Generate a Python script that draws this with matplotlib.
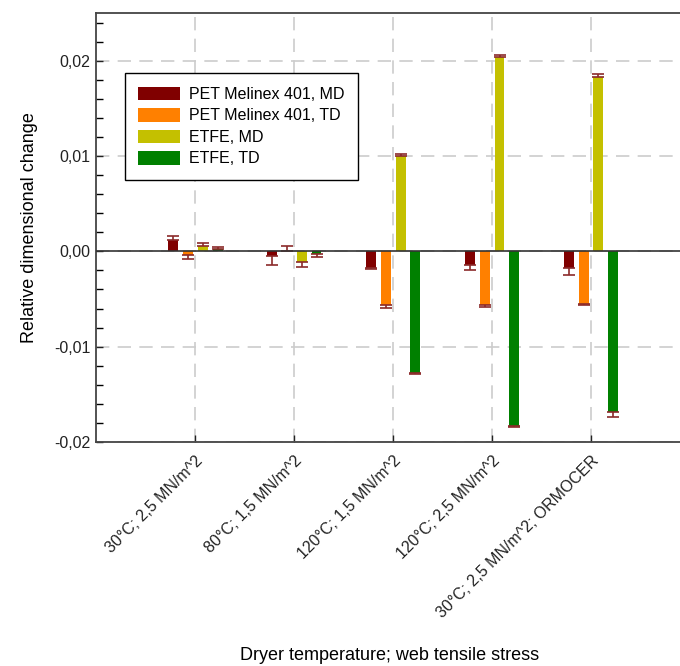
import matplotlib
matplotlib.use("Agg")
import matplotlib.pyplot as plt
import numpy as np
from matplotlib.ticker import FuncFormatter, MultipleLocator

plt.rcParams["font.family"] = ["Liberation Sans", "DejaVu Sans"]

CATEGORIES = [
    "30°C; 2,5 MN/m^2",
    "80°C; 1,5 MN/m^2",
    "120°C; 1,5 MN/m^2",
    "120°C; 2,5 MN/m^2",
    "30°C; 2,5 MN/m^2; ORMOCER",
]
SERIES = ["PET Melinex 401, MD", "PET Melinex 401, TD", "ETFE, MD", "ETFE, TD"]
COLORS = ["#800000", "#ff8000", "#c4c000", "#008000"]

pet_md = [0.00118, -0.0005, -0.0017, -0.00143, -0.0018]
pet_td = [-0.0004, 0.00005, -0.00565, -0.00565, -0.0055]
etfe_md = [0.0006, -0.0011, 0.00998, 0.0204, 0.0183]
etfe_td = [0.00025, -0.00025, -0.01274, -0.0183, -0.0169]

# one-sided error (away from zero)
pet_md_err = [0.0004, 0.0009, 0.0002, 0.0005, 0.0007]
pet_td_err = [0.0004, 0.0005, 0.0003, 0.0002, 0.0001]
etfe_md_err = [0.0003, 0.0005, 0.0002, 0.0002, 0.0003]
etfe_td_err = [0.0002, 0.0003, 0.0001, 0.0001, 0.0005]

values = [pet_md, pet_td, etfe_md, etfe_td]
errors = [pet_md_err, pet_td_err, etfe_md_err, etfe_td_err]

fig = plt.figure(figsize=(6.8, 6.66), dpi=100)
ax = fig.add_axes([95.5 / 680, 1 - 442 / 666, 1 - 95.5 / 680, (442 - 13) / 666])

x = np.arange(len(CATEGORIES))
offsets = [-0.225, -0.075, 0.075, 0.225]
for vals, errs, off, color, label in zip(values, errors, offsets, COLORS, SERIES):
    vals = np.array(vals)
    errs = np.array(errs)
    lower = np.where(vals < 0, errs, 0)
    upper = np.where(vals >= 0, errs, 0)
    ax.bar(x + off, vals, width=0.1, color=color, label=label, zorder=3)
    ax.errorbar(x + off, vals, yerr=[lower, upper], fmt="none", ecolor="#8b2a2a",
                elinewidth=1.2, capsize=4, capthick=1.2, zorder=4)

ax.axhline(0, color="#333333", lw=1.2, zorder=5)
ax.set_xlim(-1.01, 4.9)
ax.set_ylim(-0.02, 0.025)
ax.yaxis.set_major_locator(MultipleLocator(0.01))
ax.yaxis.set_minor_locator(MultipleLocator(0.002))
ax.yaxis.set_major_formatter(FuncFormatter(lambda v, p: f"{v:.2f}".replace(".", ",").replace("-0,00", "0,00")))
ax.set_xticks(x)
ax.set_xticklabels(CATEGORIES, rotation=45, ha="right", rotation_mode="anchor", fontsize=11)
ax.tick_params(axis="both", direction="in", length=5, width=1, labelsize=11.5, colors="#222222")
ax.tick_params(axis="y", which="minor", direction="in", length=5, width=1)
ax.tick_params(axis="x", pad=8)

ax.grid(True, which="major", color="#cccccc", ls=(0, (8, 5)), lw=1.2, zorder=0)
ax.spines["right"].set_visible(False)
for s in ["left", "bottom", "top"]:
    ax.spines[s].set_color("#444444")
    ax.spines[s].set_linewidth(1.3)

ax.set_ylabel("Relative dimensional change", fontsize=13, labelpad=12)
fig.text(390 / 680, 1 - 656 / 666, "Dryer temperature; web tensile stress",
         fontsize=13, ha="center", va="center")

leg = ax.legend(loc="upper left", bbox_to_anchor=(0.05, 0.86), borderaxespad=0,
                fancybox=False, edgecolor="black", fontsize=11.5, handlelength=2.6,
                handleheight=0.95, handletextpad=0.6, labelspacing=0.38,
                borderpad=0.85, framealpha=1)
leg.get_frame().set_linewidth(1.0)

fig.savefig("out.png", dpi=100)
